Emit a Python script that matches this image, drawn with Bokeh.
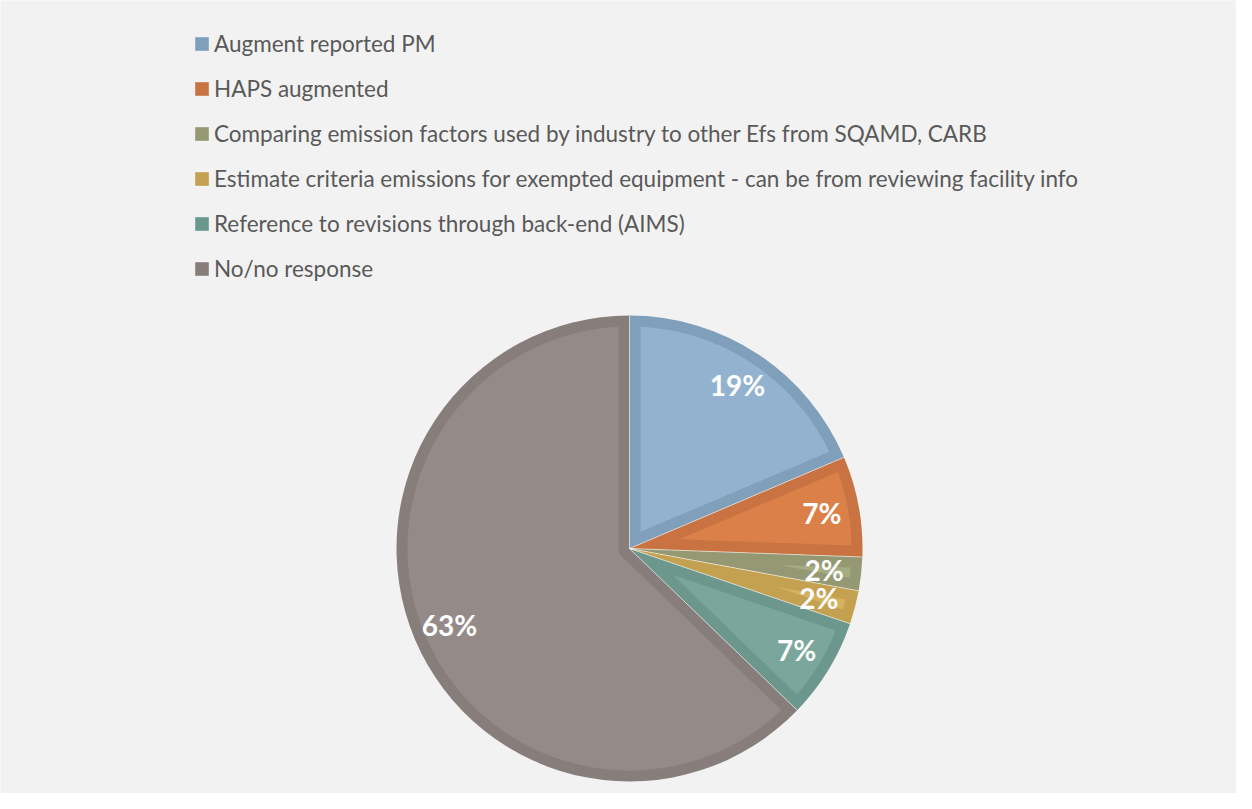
import numpy as np
from bokeh.plotting import figure
from bokeh.models import Range1d, Legend, LegendItem, ColumnDataSource
from bokeh.core.properties import value
from bokeh.embed import file_html
from bokeh.resources import INLINE

# ---- data ----
categories = [
    "Augment reported PM",
    "HAPS augmented",
    "Comparing emission factors used by industry to other Efs from SQAMD, CARB",
    "Estimate criteria emissions for exempted equipment - can be from reviewing facility info",
    "Reference to revisions through back-end (AIMS)",
    "No/no response",
]
counts = [8, 3, 1, 1, 3, 27]
edge_colors = ["#809FBB", "#C87341", "#949873", "#C4A150", "#6B978C", "#877E7C"]
fill_colors = ["#92B2CF", "#DB8048", "#A5AC82", "#D5B160", "#7AA69B", "#948B89"]

# ---- geometry ----
W, H = 1236, 793
cx, cy = 629, H - 548
R = 233
d = 11

frac = np.array(counts, dtype=float) / sum(counts)
cum = np.concatenate([[0.0], np.cumsum(frac)])
clock_start = cum[:-1] * 2 * np.pi
clock_end = cum[1:] * 2 * np.pi
start = np.pi / 2 - clock_end
end = np.pi / 2 - clock_start
mid = (start + end) / 2
pct = [f"{round(f * 100)}%" for f in frac]


def inset(a0, a1):
    th = a1 - a0
    Ri = R - d
    dl = np.arcsin(d / Ri)
    arc = np.linspace(a0 + dl, a1 - dl, 80)
    xs = list(cx + Ri * np.cos(arc))
    ys = list(cy + Ri * np.sin(arc))
    if th <= np.pi:
        r_apex = d / np.sin(th / 2)
        am = (a0 + a1) / 2
        xs.append(cx + r_apex * np.cos(am))
        ys.append(cy + r_apex * np.sin(am))
    else:
        small = np.linspace(a1 - np.pi / 2, a0 + np.pi / 2, 20)
        xs += list(cx + d * np.cos(small))
        ys += list(cy + d * np.sin(small))
    return xs, ys


inner_x, inner_y = [], []
for a0, a1 in zip(start, end):
    xs, ys = inset(a0, a1)
    inner_x.append(xs)
    inner_y.append(ys)

lr = 0.84 * R
src = ColumnDataSource(dict(
    start=start, end=end, edge=edge_colors, fill=fill_colors, cat=categories,
    lx=cx + lr * np.cos(mid), ly=cy + lr * np.sin(mid), pct=pct,
    bx=cx + R * np.cos(start), by=cy + R * np.sin(start),
    ix=inner_x, iy=inner_y,
))

p = figure(width=W, height=H, x_range=Range1d(0, W), y_range=Range1d(0, H),
           output_backend="svg", toolbar_location=None, min_border=0)
p.xaxis.visible = False
p.yaxis.visible = False
p.grid.visible = False
p.background_fill_color = "#F2F2F2"
p.border_fill_color = "#F2F2F2"
p.outline_line_color = None

wr = p.wedge(x=cx, y=cy, radius=R, start_angle="start", end_angle="end",
             fill_color="edge", line_color=None, source=src)
p.patches(xs="ix", ys="iy", fill_color="fill", line_color=None, source=src)
p.segment(x0=cx, y0=cy, x1="bx", y1="by", line_color="white", line_alpha=0.55,
          line_width=1, source=src)
p.text(x="lx", y="ly", text="pct", text_color="white", text_font=value("Lato"),
       text_font_style="bold", text_font_size="28px", text_align="center",
       text_baseline="middle", source=src)

items = [LegendItem(label=c, renderers=[wr], index=i) for i, c in enumerate(categories)]
legend = Legend(items=items, location=(193, 510), orientation="vertical",
                label_text_font="Lato", label_text_font_size="22.5px",
                label_text_color="#595959", glyph_width=17, glyph_height=17,
                label_height=30, spacing=15, padding=0, margin=0,
                label_standoff=4, border_line_color=None,
                background_fill_alpha=0)
p.add_layout(legend)

open("out.html", "w").write(file_html(p, INLINE))
